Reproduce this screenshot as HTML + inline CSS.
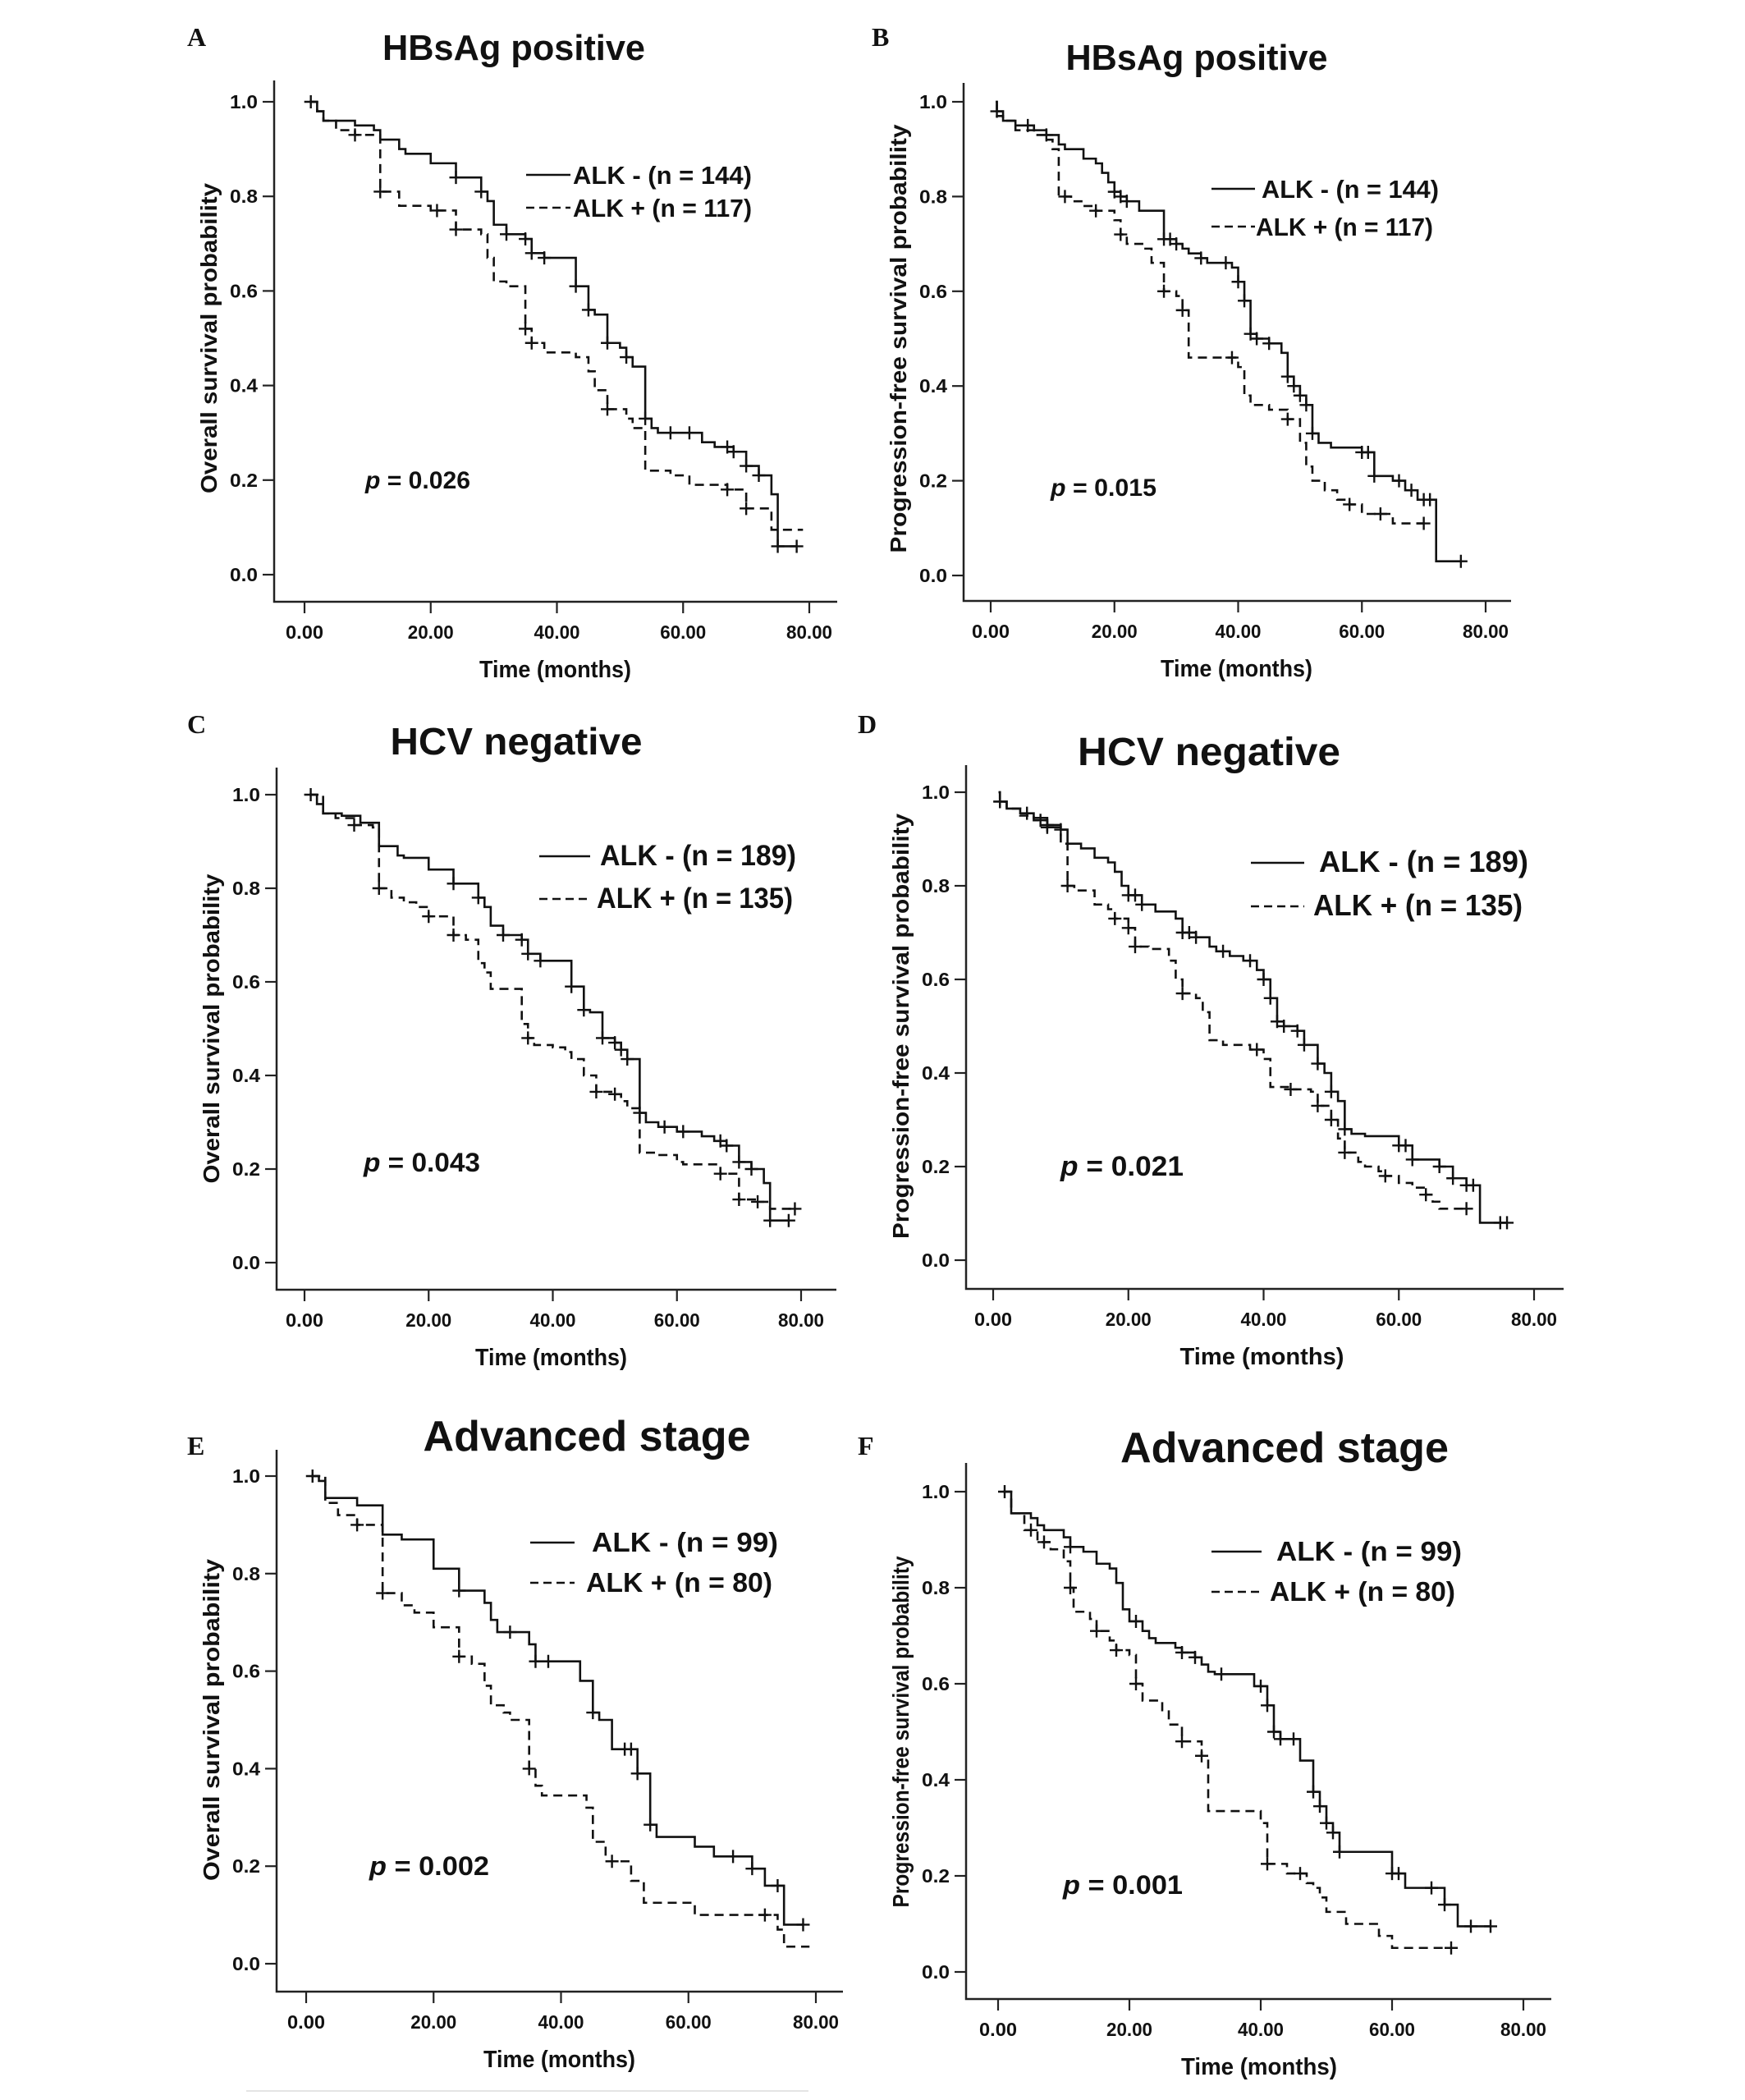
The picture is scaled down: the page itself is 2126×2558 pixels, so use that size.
<!DOCTYPE html>
<html><head><meta charset="utf-8"><style>
html,body{margin:0;padding:0;background:#fff;}
svg{display:block;}
text{font-family:"Liberation Sans",sans-serif;fill:#111;}
</style></head><body>
<svg id="fig" width="2126" height="2558" viewBox="0 0 2126 2558" xmlns="http://www.w3.org/2000/svg">
<rect width="2126" height="2558" fill="#fff"/>
<line x1="300" y1="2547" x2="985" y2="2547" stroke="#e4e4e4" stroke-width="2"/>
</svg>
<script>
// ---------- DATA (time in months, survival probability after step) ----------
const xTicks = [0, 20, 40, 60, 80];
const xTickLabels = ["0.00", "20.00", "40.00", "60.00", "80.00"];
const yTicks = [0, 0.2, 0.4, 0.6, 0.8, 1.0];
const yTickLabels = ["0.0", "0.2", "0.4", "0.6", "0.8", "1.0"];

// Panel A
const aNegT = [2,3,8,11,12,15,16,20,24,28,29,30,32,35,36,38,43,45,46,48,50,51,52,54,55,56,63,65,68,70,72,74,75];
const aNegS = [0.98,0.96,0.95,0.94,0.92,0.90,0.89,0.87,0.84,0.81,0.79,0.74,0.72,0.71,0.68,0.67,0.61,0.56,0.55,0.49,0.48,0.46,0.44,0.33,0.31,0.30,0.28,0.27,0.26,0.23,0.21,0.17,0.06];
const aNegC = [1,24,28,32,35,36,38,43,45,48,51,54,58,61,67,68,70,72,75,78];
const aNegEnd = 78;
const aPosT = [2,3,5,8,12,15,20,24,28,29,30,32,35,36,38,43,45,46,48,51,52,54,58,61,67,70,74];
const aPosS = [0.98,0.96,0.94,0.93,0.81,0.78,0.77,0.73,0.72,0.67,0.62,0.61,0.52,0.49,0.47,0.46,0.43,0.39,0.35,0.33,0.31,0.22,0.21,0.19,0.18,0.14,0.095];
const aPosC = [8,12,21,24,35,36,48,67,70];
const aPosEnd = 79;

// Panel B
const bNegT = [1,2,4,7,9,11,12,15,17,18,19,20,21,22,24,28,30,31,32,34,35,39,40,41,42,43,45,47,48,49,50,51,52,53,55,60,62,65,67,69,72];
const bNegS = [0.98,0.96,0.95,0.94,0.93,0.91,0.90,0.88,0.87,0.85,0.83,0.81,0.80,0.79,0.77,0.71,0.70,0.69,0.68,0.67,0.66,0.65,0.62,0.58,0.51,0.50,0.49,0.47,0.42,0.40,0.38,0.36,0.30,0.28,0.27,0.26,0.21,0.20,0.18,0.16,0.03];
const bNegC = [1,6,9,20,21,22,28,29,30,34,38,40,41,42,43,45,48,49,50,51,52,60,61,62,66,68,70,71,76];
const bNegEnd = 76;
const bPosT = [1,2,4,7,9,10,11,13,15,17,20,21,22,25,26,28,30,31,32,40,41,42,45,48,50,51,52,54,56,58,60,65];
const bPosS = [0.97,0.96,0.94,0.93,0.92,0.90,0.80,0.79,0.78,0.77,0.75,0.72,0.70,0.69,0.66,0.60,0.59,0.56,0.46,0.44,0.38,0.36,0.35,0.33,0.28,0.23,0.20,0.18,0.16,0.15,0.13,0.11];
const bPosC = [12,17,21,28,31,39,48,58,63,70];
const bPosEnd = 70;

// Panel C
const cNegT = [2,3,6,9,12,15,16,20,24,28,29,30,32,35,36,38,43,45,46,48,50,51,52,54,55,57,60,64,66,68,70,72,74,75];
const cNegS = [0.98,0.96,0.955,0.94,0.89,0.87,0.865,0.84,0.81,0.78,0.76,0.72,0.70,0.69,0.66,0.645,0.59,0.54,0.535,0.48,0.47,0.455,0.435,0.32,0.30,0.29,0.28,0.27,0.26,0.25,0.215,0.20,0.17,0.09];
const cNegC = [1,24,28,32,35,36,38,43,45,48,50,51,52,54,58,61,67,68,70,72,75,78];
const cNegEnd = 78;
const cPosT = [3,5,8,11,12,14,16,18,20,24,26,28,29,30,35,36,37,40,42,43,45,47,50,51,52,54,57,60,61,67,70,73,75];
const cPosS = [0.96,0.95,0.935,0.93,0.80,0.78,0.77,0.76,0.74,0.70,0.69,0.64,0.62,0.585,0.51,0.48,0.465,0.46,0.45,0.435,0.40,0.365,0.36,0.345,0.33,0.235,0.23,0.215,0.21,0.19,0.135,0.13,0.115];
const cPosC = [8,12,20,24,36,47,50,67,70,73,79];
const cPosEnd = 79;

// Panel D
const dNegT = [1,2,4,6,8,10,11,13,15,17,18,19,20,22,24,27,28,30,32,33,35,37,39,40,41,42,43,45,46,48,49,50,51,52,53,55,60,62,66,68,70,72];
const dNegS = [0.98,0.965,0.955,0.945,0.93,0.92,0.89,0.88,0.86,0.85,0.83,0.80,0.78,0.76,0.745,0.73,0.70,0.69,0.67,0.66,0.65,0.64,0.62,0.60,0.56,0.51,0.50,0.49,0.46,0.42,0.40,0.36,0.34,0.28,0.27,0.265,0.245,0.215,0.20,0.175,0.16,0.08];
const dNegC = [1,5,8,10,20,21,22,28,29,30,34,38,40,41,42,43,45,46,48,50,52,60,61,62,66,68,70,71,75,76];
const dNegEnd = 76;
const dPosT = [1,2,4,6,8,10,11,12,15,17,18,20,21,23,26,27,28,30,31,32,34,38,40,41,44,47,48,50,51,52,54,55,57,58,60,62,64,65,66];
const dPosS = [0.98,0.965,0.95,0.94,0.925,0.89,0.80,0.79,0.76,0.75,0.73,0.71,0.67,0.665,0.64,0.60,0.57,0.56,0.53,0.47,0.46,0.45,0.43,0.37,0.365,0.36,0.33,0.30,0.26,0.23,0.21,0.20,0.19,0.18,0.165,0.155,0.14,0.125,0.11];
const dPosC = [1,7,8,11,18,20,21,28,39,44,48,50,52,58,64,70];
const dPosEnd = 70;

// Panel E
const eNegT = [2,3,8,12,15,20,24,28,29,30,35,36,43,45,46,48,52,54,55,61,64,70,72,75];
const eNegS = [0.99,0.955,0.94,0.88,0.87,0.81,0.765,0.74,0.705,0.68,0.655,0.62,0.58,0.515,0.50,0.44,0.39,0.285,0.26,0.24,0.22,0.195,0.16,0.08];
const eNegC = [1,24,32,36,38,45,50,51,52,54,67,70,74,78];
const eNegEnd = 78;
const ePosT = [3,5,8,12,15,17,20,24,26,28,29,31,32,35,36,37,44,45,47,51,53,61,74,75];
const ePosS = [0.945,0.92,0.90,0.76,0.735,0.72,0.69,0.63,0.615,0.57,0.53,0.515,0.50,0.40,0.365,0.345,0.32,0.25,0.21,0.17,0.125,0.10,0.07,0.035];
const ePosC = [8,12,24,35,48,72];
const ePosEnd = 79;

// Panel F
const fNegT = [2,5,6,7,10,11,13,15,17,18,19,20,22,23,24,27,28,30,31,32,33,39,41,42,43,46,48,49,50,51,52,60,62,68,70];
const fNegS = [0.955,0.945,0.93,0.92,0.905,0.885,0.875,0.85,0.84,0.81,0.755,0.73,0.71,0.695,0.685,0.675,0.665,0.655,0.64,0.625,0.62,0.595,0.555,0.50,0.485,0.44,0.375,0.345,0.31,0.29,0.25,0.205,0.175,0.14,0.095];
const fNegC = [1,11,21,28,30,34,40,41,42,43,45,48,49,50,51,52,60,61,66,68,72,75];
const fNegEnd = 75;
const fPosT = [2,4,6,8,10,11,11.5,14,15,17,18,20,21,22,25,26,28,31,32,40,41,44,47,48,49,50,53,58,60];
const fPosS = [0.955,0.92,0.895,0.88,0.855,0.80,0.75,0.735,0.71,0.69,0.67,0.66,0.60,0.565,0.545,0.515,0.48,0.45,0.335,0.31,0.225,0.205,0.185,0.175,0.155,0.125,0.10,0.075,0.05];
const fPosC = [5,7,11,15,18,21,28,31,41,46,69];
const fPosEnd = 69;

// ---------- LAYOUT ----------
const NS = "http://www.w3.org/2000/svg";
const svg = document.getElementById('fig');
function mk(tag, attrs, parent) {
  const e = document.createElementNS(NS, tag);
  for (const k in attrs) e.setAttribute(k, attrs[k]);
  (parent || svg).appendChild(e);
  return e;
}

const panels = [
  {id:'a', letter:'A', lx:228, ly:56, title:'HBsAg positive', tx:626, ty:73, tw:320, tf:44,
   ax:334, x0:371, x80:986, y1:124, y0:700, axY:733, xEnd:1020, top:98,
   ylab:'Overall survival probability', ylw:378, xlabW:185,
   leg:{x1:641,x2:695,r1:213,r2:253,t1:698,t2:698,w:218,f:31},
   p:{x:445,y:595,w:128,v:'0.026',f:30},
   neg:[aNegT,aNegS,aNegC,aNegEnd], pos:[aPosT,aPosS,aPosC,aPosEnd]},
  {id:'b', letter:'B', lx:1062, ly:56, title:'HBsAg positive', tx:1458, ty:85, tw:319, tf:44,
   ax:1174, x0:1207, x80:1810, y1:124, y0:701, axY:732, xEnd:1841, top:101,
   ylab:'Progression-free survival probability', ylw:522, xlabW:185,
   leg:{x1:1476,x2:1529,r1:230,r2:276,t1:1537,t2:1530,w:216,f:31},
   p:{x:1280,y:604,w:129,v:'0.015',f:30},
   neg:[bNegT,bNegS,bNegC,bNegEnd], pos:[bPosT,bPosS,bPosC,bPosEnd]},
  {id:'c', letter:'C', lx:228, ly:893, title:'HCV negative', tx:629, ty:919, tw:307, tf:46,
   ax:337, x0:371, x80:976, y1:968, y0:1538, axY:1571, xEnd:1019, top:935,
   ylab:'Overall survival probability', ylw:377, xlabW:185,
   leg:{x1:657,x2:719,r1:1043,r2:1095,t1:731,t2:727,w:239,f:35},
   p:{x:443,y:1427,w:142,v:'0.043',f:32},
   neg:[cNegT,cNegS,cNegC,cNegEnd], pos:[cPosT,cPosS,cPosC,cPosEnd]},
  {id:'d', letter:'D', lx:1045, ly:893, title:'HCV negative', tx:1473, ty:932, tw:320, tf:48,
   ax:1177, x0:1210, x80:1869, y1:965, y0:1535, axY:1570, xEnd:1905, top:932,
   ylab:'Progression-free survival probability', ylw:518, xlabW:200,
   leg:{x1:1524,x2:1589,r1:1051,r2:1104,t1:1607,t2:1600,w:255,f:36},
   p:{x:1292,y:1432,w:150,v:'0.021',f:34},
   neg:[dNegT,dNegS,dNegC,dNegEnd], pos:[dPosT,dPosS,dPosC,dPosEnd]},
  {id:'e', letter:'E', lx:228, ly:1772, title:'Advanced stage', tx:715, ty:1767, tw:399, tf:52,
   ax:337, x0:373, x80:994, y1:1798, y0:2392, axY:2426, xEnd:1027, top:1766,
   ylab:'Overall survival probability', ylw:392, xlabW:185,
   leg:{x1:646,x2:700,r1:1879,r2:1928,t1:721,t2:714,w:227,f:33},
   p:{x:450,y:2284,w:146,v:'0.002',f:32},
   neg:[eNegT,eNegS,eNegC,eNegEnd], pos:[ePosT,ePosS,ePosC,ePosEnd]},
  {id:'f', letter:'F', lx:1045, ly:1772, title:'Advanced stage', tx:1565, ty:1781, tw:400, tf:52,
   ax:1177, x0:1216, x80:1856, y1:1817, y0:2402, axY:2435, xEnd:1890, top:1782,
   ylab:'Progression-free survival probability', ylw:428, xlabW:190,
   leg:{x1:1476,x2:1537,r1:1890,r2:1939,t1:1555,t2:1547,w:226,f:33},
   p:{x:1295,y:2307,w:146,v:'0.001',f:32},
   neg:[fNegT,fNegS,fNegC,fNegEnd], pos:[fPosT,fPosS,fPosC,fPosEnd]}
];

function stepAt(T, S, t) {
  let v = 1;
  for (let i = 0; i < T.length; i++) { if (T[i] <= t) v = S[i]; }
  return v;
}

panels.forEach(P => {
  const g = mk('g', {});
  
  
  const X = t => P.x0 + (P.x80 - P.x0) * t / 80;
  const Y = s => P.y0 - (P.y0 - P.y1) * s;

  // panel letter
  const lt = mk('text', {x:P.lx, y:P.ly, 'font-size':32, 'font-weight':'bold', style:'font-family:"Liberation Serif",serif'}, g);
  lt.textContent = P.letter;
  
  

  // title
  const tt = mk('text', {x:P.tx, y:P.ty, 'font-size':P.tf, 'font-weight':'bold', 'text-anchor':'middle', textLength:P.tw, lengthAdjust:'spacingAndGlyphs'}, g);
  tt.textContent = P.title;
  
  

  // axes
  const axes = mk('path', {d:`M${P.ax},${P.top} V${P.axY} H${P.xEnd}`, fill:'none', stroke:'#222', 'stroke-width':2.5}, g);
  
  

  // y ticks
  yTicks.forEach((v, i) => {
    const y = Y(v);
    const tk = mk('line', {x1:P.ax - 14, x2:P.ax, y1:y, y2:y, stroke:'#222', 'stroke-width':2.2}, g);
    
    
    const tl = mk('text', {x:P.ax - 20, y:y + 8, 'font-size':23, 'font-weight':'bold', 'text-anchor':'end', textLength:34, lengthAdjust:'spacingAndGlyphs'}, g);
    tl.textContent = yTickLabels[i];
    
    
  });
  // x ticks
  xTicks.forEach((v, i) => {
    const x = X(v);
    const tk = mk('line', {x1:x, x2:x, y1:P.axY, y2:P.axY + 14, stroke:'#222', 'stroke-width':2.2}, g);
    
    
    const tl = mk('text', {x:x, y:P.axY + 45, 'font-size':23, 'font-weight':'bold', 'text-anchor':'middle', textLength:i === 0 ? 46 : 56, lengthAdjust:'spacingAndGlyphs'}, g);
    tl.textContent = xTickLabels[i];
    
    
  });

  // axis titles
  const xl = mk('text', {x:(P.x0 + P.x80) / 2 - 2, y:P.axY + 92, 'font-size':29, 'font-weight':'bold', 'text-anchor':'middle', textLength:P.xlabW, lengthAdjust:'spacingAndGlyphs'}, g);
  xl.textContent = 'Time (months)';
  
  
  const yc = (P.y0 + P.y1) / 2, yx = P.ax - 70;
  const yl = mk('text', {x:yx, y:yc, 'font-size':28, 'font-weight':'bold', 'text-anchor':'middle', transform:`rotate(-90 ${yx} ${yc})`, textLength:P.ylw, lengthAdjust:'spacingAndGlyphs'}, g);
  yl.textContent = P.ylab;
  
  

  // curves
  [['neg', P.neg, null], ['pos', P.pos, '11 7']].forEach(([nm, ser, dash]) => {
    const [T, S, C, end] = ser;
    let d = `M${X(0.8)},${Y(1)}`;
    let cur = 1;
    T.forEach((t, i) => { d += ` H${X(t)} V${Y(S[i])}`; cur = S[i]; });
    d += ` H${X(end)}`;
    const attrs = {d:d, fill:'none', stroke:'#111', 'stroke-width':2.6};
    if (dash) attrs['stroke-dasharray'] = dash;
    const path = mk('path', attrs, g);
    
    
    C.forEach(t => {
      const cx = X(t), cy = Y(stepAt(T, S, t));
      const cm = mk('path', {d:`M${cx},${cy - 8} V${cy + 8} M${cx - 8},${cy} H${cx + 8}`, stroke:'#111', 'stroke-width':2.4}, g);
      
      
    });
  });

  // legend
  const L = P.leg;
  const leg = mk('g', {}, g);
  
  
  const l1 = mk('line', {x1:L.x1, x2:L.x2, y1:L.r1, y2:L.r1, stroke:'#111', 'stroke-width':2.6}, leg);
  
  
  const l2 = mk('line', {x1:L.x1, x2:L.x2, y1:L.r2, y2:L.r2, stroke:'#111', 'stroke-width':2.6, 'stroke-dasharray':'10 6'}, leg);
  
  
  const ns = {a:'144', b:'144', c:'189', d:'189', e:'99', f:'99'}[P.id];
  const ps = {a:'117', b:'117', c:'135', d:'135', e:'80', f:'80'}[P.id];
  const t1 = mk('text', {x:L.t1, y:L.r1 + 11, 'font-size':L.f, 'font-weight':'bold', textLength:L.w, lengthAdjust:'spacingAndGlyphs'}, leg);
  t1.textContent = 'ALK - (n = ' + ns + ')';
  
  
  const t2 = mk('text', {x:L.t2, y:L.r2 + 11, 'font-size':L.f, 'font-weight':'bold', textLength:L.w, lengthAdjust:'spacingAndGlyphs'}, leg);
  t2.textContent = 'ALK + (n = ' + ps + ')';
  
  

  // p value
  const pt = mk('text', {x:P.p.x, y:P.p.y, 'font-size':P.p.f, 'font-weight':'bold', textLength:P.p.w, lengthAdjust:'spacingAndGlyphs'}, g);
  const pi = mk('tspan', {'font-style':'italic'}, pt);
  pi.textContent = 'p';
  const pr = mk('tspan', {}, pt);
  pr.textContent = ' = ' + P.p.v;
  
  
});
</script>
</body></html>
